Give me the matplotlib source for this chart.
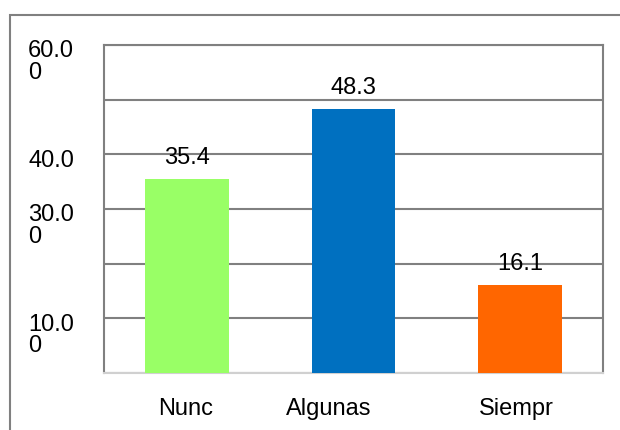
import matplotlib.pyplot as plt
from matplotlib.patches import Rectangle
import matplotlib.transforms as mtransforms

# data
categories = ['Nunc', 'Algunas', 'Siempr']
values = [35.4, 48.3, 16.1]
colors = ['#99ff66', '#0070c0', '#ff6600']
# where the (cut off) category labels sit, in bar units
label_pos = [-0.01, 0.85, 1.98]
ytick_vals = [60, 40, 30, 10]
ytick_text = ['60.0\n0', '40.0', '30.0\n0', '10.0\n0']

plt.rcParams['font.family'] = ['Liberation Sans', 'DejaVu Sans']
fs = 17

fig = plt.figure(figsize=(6.2, 4.31), dpi=100)

# outer chart border (runs past the right and bottom edges)
fig.patches.append(Rectangle((10 / 620, -0.1), 1.2, 1 - 16 / 431 + 0.1,
                             transform=fig.transFigure, fill=False,
                             edgecolor='#808080', linewidth=1.5))

ax = fig.add_axes([104 / 620, 57 / 431, 499 / 620, 328 / 431])
x = range(len(categories))
ax.bar(x, values, width=0.505, color=colors, zorder=3)
ax.set_xlim(-0.5, 2.5)
ax.set_ylim(0, 60)

# gridlines
ax.set_yticks(range(0, 61, 10))
ax.yaxis.grid(True, color='#808080', linewidth=1.5, zorder=0)
ax.tick_params(axis='y', length=0, labelleft=False)
for s in ['left', 'top', 'right']:
    ax.spines[s].set_color('#808080')
    ax.spines[s].set_linewidth(1.5)
ax.spines['bottom'].set_color('#d0d0d0')
ax.spines['bottom'].set_linewidth(1.5)

# y labels, drawn as text so the wrapped ones look right
off = mtransforms.ScaledTranslation(0, 4 / 72, fig.dpi_scale_trans)
trans = mtransforms.blended_transform_factory(ax.transAxes, ax.transData) + off
for v, t in zip(ytick_vals, ytick_text):
    ax.text(-0.152, v, t, transform=trans, ha='left', va='top',
            fontsize=fs, linespacing=0.97)

ax.set_xticks(label_pos)
ax.set_xticklabels(categories, fontsize=fs)
ax.tick_params(axis='x', length=0, pad=17)

# value labels
for i, v in enumerate(values):
    ax.annotate(f'{v:.1f}', (i, v), xytext=(0, 16), textcoords='offset points',
                ha='center', va='center', fontsize=fs)

fig.savefig('out.png', dpi=100)
